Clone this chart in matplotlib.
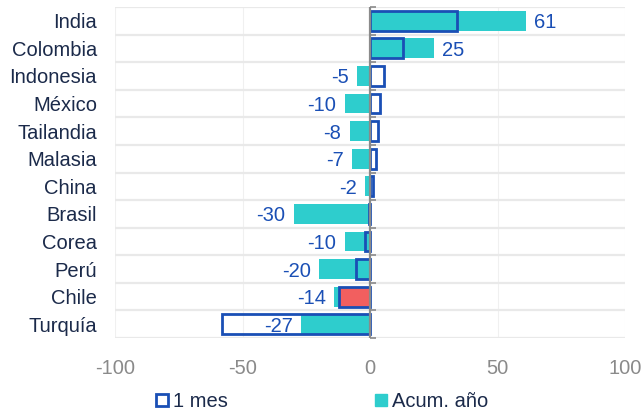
import matplotlib
matplotlib.use("Agg")
import matplotlib.pyplot as plt
from matplotlib.patches import Patch
import numpy as np

plt.rcParams["font.family"] = ["Liberation Sans", "DejaVu Sans"]
plt.rcParams["axes.unicode_minus"] = False

paises = ["India", "Colombia", "Indonesia", "México", "Tailandia", "Malasia",
          "China", "Brasil", "Corea", "Perú", "Chile", "Turquía"]
acum_anio = [61, 25, -5, -10, -8, -7, -2, -30, -10, -20, -14, -27]
un_mes = [34, 13, 5.5, 4, 3.2, 2.5, 1.3, -0.4, -2, -5.5, -12, -58]

CYAN = "#2ECDCD"
BLUE = "#1A4FB5"
RED = "#F25F5F"
NAVY = "#1B2A4A"
GRAY = "#8A8A8A"

fig = plt.figure(figsize=(6.44, 4.12), dpi=100)
ax = fig.add_axes([0.1786, 0.1796, 0.7919, 0.8034])

y = np.arange(len(paises))
h = 0.72

# acumulado en el año
bars = ax.barh(y, acum_anio, height=h, color=CYAN, zorder=2)

# variación último mes (contorno), Chile resaltado
fills = [RED if p == "Chile" else "none" for p in paises]
ax.barh(y, un_mes, height=h, facecolor=fills, edgecolor=BLUE,
        linewidth=2.0, zorder=3)

etiquetas = ax.bar_label(bars, labels=[f"{v:d}" for v in acum_anio], padding=6,
                         color=BLUE, fontsize=14.5, zorder=4)
for t in etiquetas:
    t.set_va("center_baseline")

ax.set_xlim(-100, 100)
ax.set_ylim(len(paises) - 0.5, -0.5)

# separadores y rejilla
ax.hlines(np.arange(len(paises) + 1) - 0.5, -100, 100, color="#E9E9E9",
          lw=1.6, zorder=1)
for gx in [-100, -50, 50, 100]:
    ax.axvline(gx, color="#F0F0F0", lw=0.8, zorder=0)

for s in ax.spines.values():
    s.set_visible(False)

ax.set_yticks(y)
ax.set_yticklabels(paises, fontsize=14.5, color=NAVY, va="center_baseline")
ax.tick_params(axis="y", length=0, pad=13)
ax.set_xticks([-100, -50, 0, 50, 100])
ax.tick_params(axis="x", length=0, pad=15, labelsize=14.5, labelcolor=GRAY)

# eje en cero con marcas por categoría
ax.axvline(0, color=GRAY, lw=1.6, zorder=5)
sec = ax.secondary_yaxis(0.5)
sec.set_yticks(np.arange(len(paises) + 1) - 0.5)
sec.set_yticklabels([])
sec.tick_params(axis="y", length=4, width=1.2, color=GRAY, direction="out")
for s in sec.spines.values():
    s.set_visible(False)
sec.set_zorder(5)

handles = [Patch(facecolor="white", edgecolor=BLUE, linewidth=2.0, label="1 mes"),
           Patch(facecolor=CYAN, edgecolor=CYAN, label="Acum. año")]
leg = fig.legend(handles=handles, loc="center", bbox_to_anchor=(0.5, 0.025),
                 ncol=2, frameon=False, fontsize=14.5, handlelength=0.6,
                 handleheight=0.6, handletextpad=0.25, columnspacing=7.3)
for t in leg.get_texts():
    t.set_color(NAVY)

fig.savefig("out.png", dpi=100)
